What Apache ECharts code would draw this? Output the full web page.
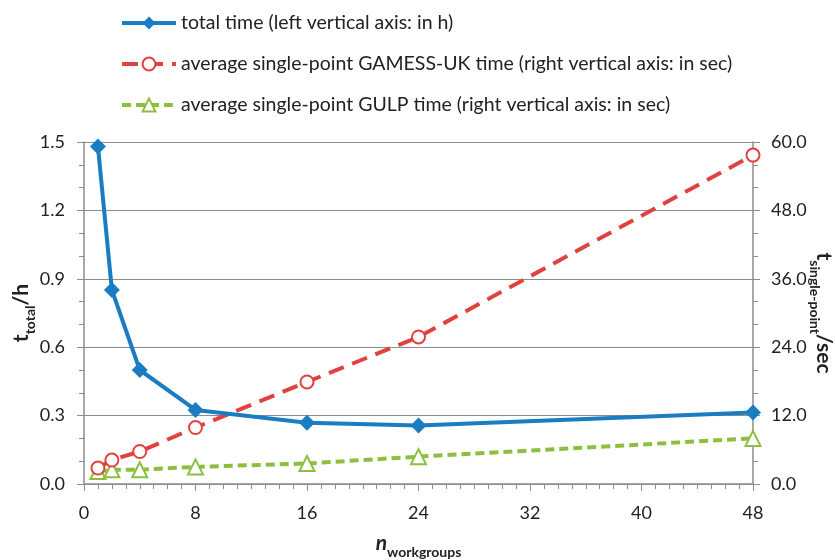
<!DOCTYPE html>
<html lang="en">
<head>
    <meta charset="UTF-8">
    <title>workgroups timing</title>
    <style type="text/css">
        * {
            margin: 0;
            padding: 0;
        }

        html, body {
            width: 100%;
            height: 100%;
            background: #fff;
        }

        #chart-panel {
            width: 835px;
            height: 560px;
        }
    </style>
</head>
<body>

<div id="chart-panel"></div>

<script src="https://cdn.jsdelivr.net/npm/echarts@6/dist/echarts.min.js"></script>
<script>

    // number of workgroups
    let workgroups = [1, 2, 4, 8, 16, 24, 48];
    // total time, left axis (h)
    let totalTime = [1.48, 0.851, 0.50, 0.325, 0.269, 0.257, 0.314];
    // single-point times, right axis (sec)
    let gamessTime = [2.8, 4.2, 5.7, 9.9, 17.9, 25.8, 57.7];
    let gulpTime = [2.2, 2.5, 2.5, 3.0, 3.6, 4.8, 8.0];

    let seriesNames = [
        "total time (left vertical axis: in h)",
        "average single-point GAMESS-UK time (right vertical axis: in sec)",
        "average single-point GULP time (right vertical axis: in sec)"
    ];

    const pair = (ys) => workgroups.map((x, i) => [x, ys[i]]);

    let fontFamily = "Lato, 'Open Sans', sans-serif";
    let axisGray = "#8c8c8c";
    let blue = "#1a7dc1";
    let red = "#e0433f";
    let green = "#8cbf3f";

    var myChart = echarts.init(document.getElementById('chart-panel'));

    let tickLabel = {
        fontSize: 18,
        color: "#222",
        fontFamily: fontFamily
    };

    let nameRich = {
        t: {fontSize: 21, fontWeight: "bold", fontStyle: "normal", color: "#222", verticalAlign: "bottom", lineHeight: 24},
        n: {fontSize: 21, fontWeight: "bold", fontStyle: "italic", color: "#222", verticalAlign: "bottom", lineHeight: 24},
        sub: {fontSize: 14, fontWeight: "bold", color: "#222", verticalAlign: "bottom", lineHeight: 24, padding: [0, 0, -5, 0]}
    };

    var option = {
        animation: false,
        textStyle: {fontFamily: fontFamily},
        legend: {
            orient: "vertical",
            left: 115,
            top: 8,
            itemWidth: 54,
            itemHeight: 16,
            itemGap: 21,
            textStyle: {
                fontSize: 19.5,
                color: "#222",
                fontFamily: fontFamily
            },
            data: [
                {name: seriesNames[0], lineStyle: {width: 4}},
                {name: seriesNames[1], lineStyle: {width: 4}},
                {name: seriesNames[2], lineStyle: {width: 4}}
            ]
        },
        grid: {
            left: 84,
            right: 82,
            top: 142,
            bottom: 76,
            outerBoundsMode: "none"
        },
        xAxis: {
            type: "value",
            min: 0,
            max: 48,
            interval: 8,
            name: "{n|n}{sub|workgroups}",
            nameLocation: "middle",
            nameGap: 46,
            nameMoveOverlap: false,
            nameTextStyle: {rich: nameRich},
            axisLine: {lineStyle: {color: axisGray, width: 1.5}},
            axisTick: {length: 7, lineStyle: {color: axisGray}},
            minorTick: {show: true, splitNumber: 8, length: 5, lineStyle: {color: axisGray}},
            splitLine: {show: false},
            axisLabel: Object.assign({margin: 20}, tickLabel)
        },
        yAxis: [{
            type: "value",
            min: 0,
            max: 1.5,
            interval: 0.3,
            position: "left",
            name: "{t|t}{sub|total}{t|/h}",
            nameLocation: "middle",
            nameRotate: 90,
            nameGap: 52,
            nameMoveOverlap: false,
            nameTextStyle: {rich: nameRich},
            axisLine: {show: true, lineStyle: {color: axisGray, width: 1.5}},
            axisTick: {show: true, length: 7, lineStyle: {color: axisGray}},
            minorTick: {show: true, splitNumber: 3, length: 5, lineStyle: {color: axisGray}},
            splitLine: {lineStyle: {color: axisGray, width: 1.2}},
            axisLabel: Object.assign({
                margin: 19,
                formatter: (v) => v.toFixed(1)
            }, tickLabel)
        }, {
            type: "value",
            min: 0,
            max: 60,
            interval: 12,
            position: "right",
            name: "{t|t}{sub|single-point}{t|/sec}",
            nameLocation: "middle",
            nameRotate: -90,
            nameGap: 60,
            nameMoveOverlap: false,
            nameTextStyle: {rich: nameRich},
            axisLine: {show: true, lineStyle: {color: axisGray, width: 1.5}},
            axisTick: {show: true, length: 7, lineStyle: {color: axisGray}},
            minorTick: {show: true, splitNumber: 3, length: 5, lineStyle: {color: axisGray}},
            splitLine: {show: false},
            axisLabel: Object.assign({
                margin: 18,
                formatter: (v) => v.toFixed(1)
            }, tickLabel)
        }],
        series: [{
            name: seriesNames[0],
            type: "line",
            yAxisIndex: 0,
            symbol: "diamond",
            symbolSize: 16,
            z: 5,
            lineStyle: {width: 4, color: blue},
            itemStyle: {color: blue},
            data: pair(totalTime)
        }, {
            name: seriesNames[1],
            type: "line",
            yAxisIndex: 1,
            symbol: "emptyCircle",
            symbolSize: 13,
            z: 4,
            lineStyle: {width: 4, color: red, type: [16, 9]},
            itemStyle: {color: red, borderWidth: 3, borderColor: red},
            data: pair(gamessTime)
        }, {
            name: seriesNames[2],
            type: "line",
            yAxisIndex: 1,
            symbol: "emptyTriangle",
            symbolSize: 15,
            z: 3,
            lineStyle: {width: 4, color: green, type: [9, 5]},
            itemStyle: {color: green, borderWidth: 3.5, borderColor: green},
            data: pair(gulpTime)
        }]
    };
    myChart.setOption(option);
</script>
</body>
</html>
